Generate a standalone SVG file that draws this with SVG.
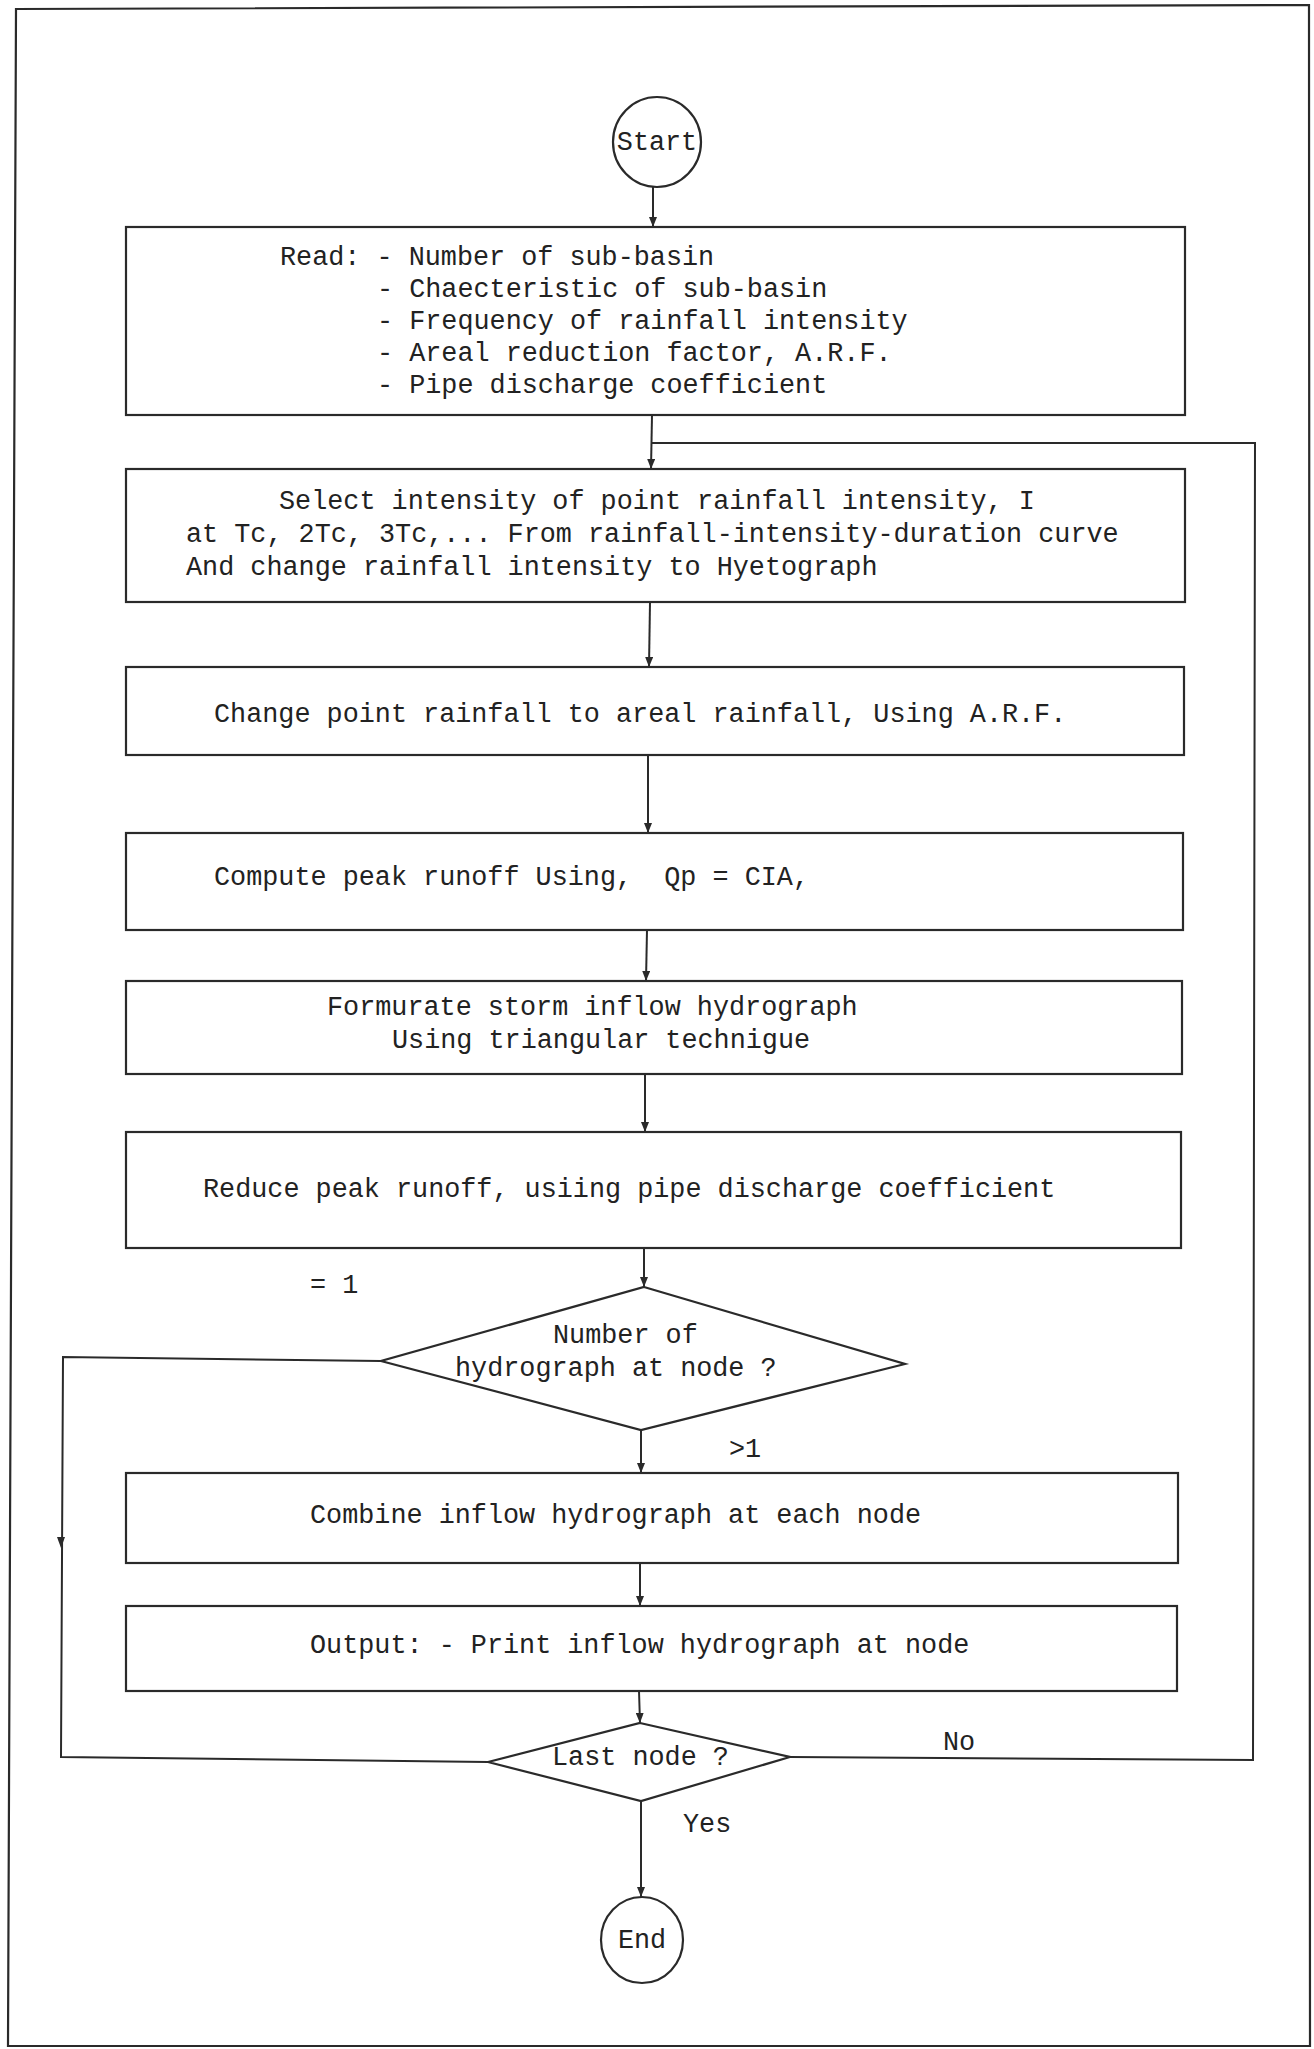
<svg xmlns="http://www.w3.org/2000/svg" width="1314" height="2049" viewBox="0 0 1314 2049">
<defs>
<style>
.ln{fill:none;stroke:#2a2a2a;stroke-width:2}
.bx{fill:none;stroke:#2a2a2a;stroke-width:2.2}
.t{font-family:"Liberation Mono","DejaVu Sans Mono",monospace;font-size:26.8px;fill:#222}
</style>
<marker id="arr" markerUnits="userSpaceOnUse" markerWidth="10" markerHeight="8" refX="10" refY="4" orient="auto" viewBox="0 0 10 8">
<path d="M0,0 L10,4 L0,8 z" fill="#2a2a2a"/>
</marker>
</defs>
<rect width="1314" height="2049" fill="#fff"/>
<path id="frame" class="bx" d="M16,9 L1309,5 L1310,2046 L8,2046 Z"/>

<g id="connectors">
<line class="ln" x1="653" y1="186" x2="653" y2="227" marker-end="url(#arr)"/>
<line class="ln" x1="652" y1="415" x2="651" y2="469" marker-end="url(#arr)"/>
<line class="ln" x1="650" y1="602" x2="649" y2="667" marker-end="url(#arr)"/>
<line class="ln" x1="648" y1="755" x2="648" y2="833" marker-end="url(#arr)"/>
<line class="ln" x1="647" y1="930" x2="646" y2="981" marker-end="url(#arr)"/>
<line class="ln" x1="645" y1="1074" x2="645" y2="1132" marker-end="url(#arr)"/>
<line class="ln" x1="644" y1="1248" x2="644" y2="1287" marker-end="url(#arr)"/>
<line class="ln" x1="641" y1="1430" x2="641" y2="1473" marker-end="url(#arr)"/>
<line class="ln" x1="640" y1="1563" x2="640" y2="1606" marker-end="url(#arr)"/>
<line class="ln" x1="639" y1="1691" x2="640" y2="1723" marker-end="url(#arr)"/>
<line class="ln" x1="641" y1="1801" x2="641" y2="1897" marker-end="url(#arr)"/>
<polyline class="ln" points="790,1757 1253,1760 1255,443 652,443"/>
<polyline class="ln" points="381,1361 63,1357 61,1757 488,1762"/>
<path d="M57,1537 L65,1537 L61,1548 z" fill="#2a2a2a"/>
</g>

<g id="start">
<ellipse class="bx" cx="657" cy="142" rx="44" ry="45"/>
<text class="t" x="657" y="150" text-anchor="middle">Start</text>
</g>

<g id="read">
<rect class="bx" x="126" y="227" width="1059" height="188"/>
<text class="t" x="280" y="265">Read: - Number of sub-basin</text>
<text class="t" x="377" y="297">- Chaecteristic of sub-basin</text>
<text class="t" x="377" y="329">- Frequency of rainfall intensity</text>
<text class="t" x="377" y="361">- Areal reduction factor, A.R.F.</text>
<text class="t" x="377" y="393">- Pipe discharge coefficient</text>
</g>

<g id="select">
<rect class="bx" x="126" y="469" width="1059" height="133"/>
<text class="t" x="279" y="509">Select intensity of point rainfall intensity, I</text>
<text class="t" x="186" y="542">at Tc, 2Tc, 3Tc,... From rainfall-intensity-duration curve</text>
<text class="t" x="186" y="575">And change rainfall intensity to Hyetograph</text>
</g>

<g id="change">
<rect class="bx" x="126" y="667" width="1058" height="88"/>
<text class="t" x="214" y="722">Change point rainfall to areal rainfall, Using A.R.F.</text>
</g>

<g id="compute">
<rect class="bx" x="126" y="833" width="1057" height="97"/>
<text class="t" x="214" y="885" xml:space="preserve">Compute peak runoff Using,  Qp = CIA,</text>
</g>

<g id="formurate">
<rect class="bx" x="126" y="981" width="1056" height="93"/>
<text class="t" x="327" y="1015">Formurate storm inflow hydrograph</text>
<text class="t" x="392" y="1048">Using triangular technigue</text>
</g>

<g id="reduce">
<rect class="bx" x="126" y="1132" width="1055" height="116"/>
<text class="t" x="203" y="1197">Reduce peak runoff, usiing pipe discharge coefficient</text>
</g>

<g id="decision1">
<polygon class="bx" points="644,1287 905,1364 641,1430 381,1361"/>
<text class="t" x="553" y="1343">Number of</text>
<text class="t" x="455" y="1376">hydrograph at node ?</text>
<text class="t" x="310" y="1293">= 1</text>
<text class="t" x="729" y="1457">&gt;1</text>
</g>

<g id="combine">
<rect class="bx" x="126" y="1473" width="1052" height="90"/>
<text class="t" x="310" y="1523">Combine inflow hydrograph at each node</text>
</g>

<g id="output">
<rect class="bx" x="126" y="1606" width="1051" height="85"/>
<text class="t" x="310" y="1653">Output: - Print inflow hydrograph at node</text>
</g>

<g id="decision2">
<polygon class="bx" points="640,1723 790,1757 641,1801 488,1762"/>
<text class="t" x="552" y="1765">Last node ?</text>
<text class="t" x="943" y="1750">No</text>
<text class="t" x="683" y="1832">Yes</text>
</g>

<g id="end">
<ellipse class="bx" cx="642" cy="1940" rx="41" ry="43"/>
<text class="t" x="642" y="1948" text-anchor="middle">End</text>
</g>
</svg>
